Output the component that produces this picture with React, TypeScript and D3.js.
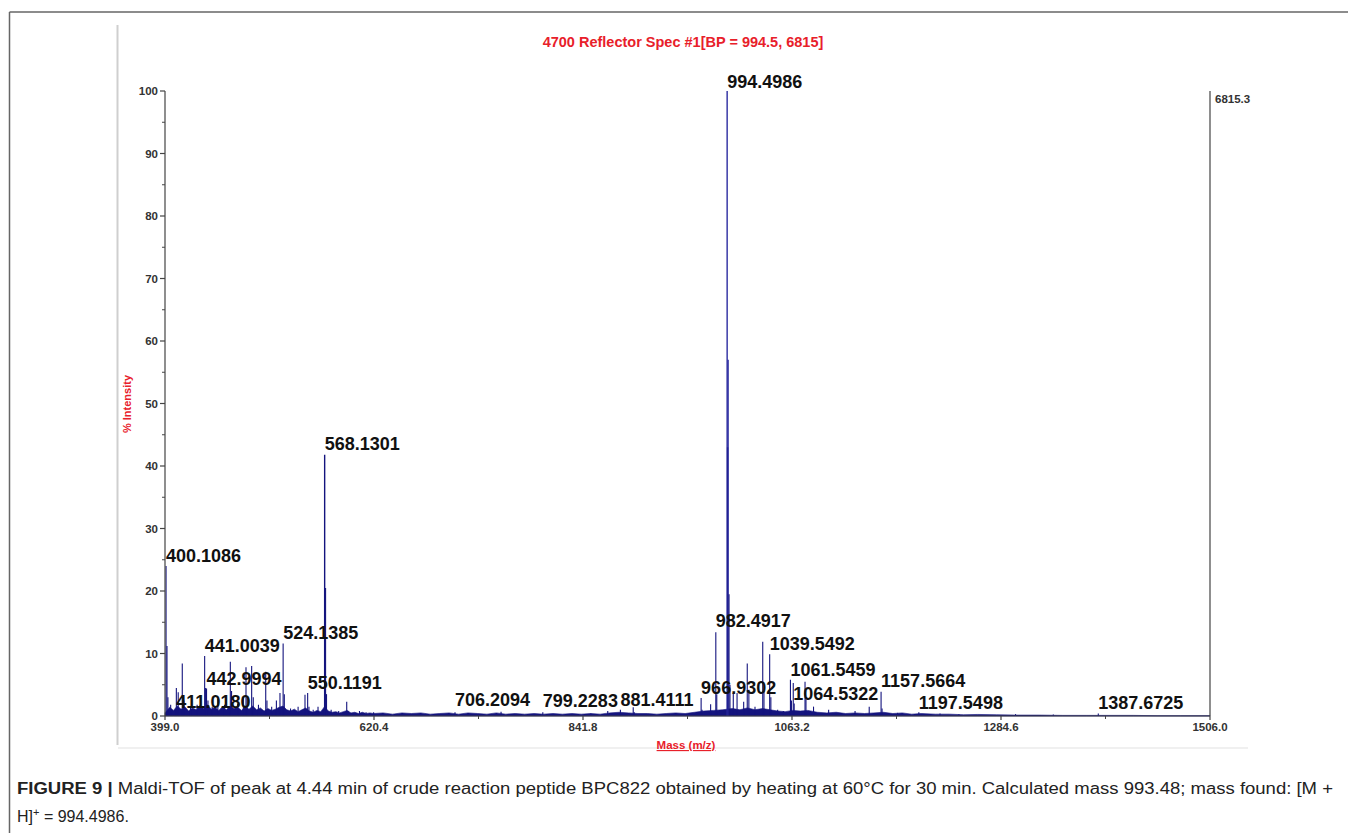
import React from "react";
import * as d3 from "d3";

const title = "4700 Reflector Spec #1[BP = 994.5, 6815]";
const yLabel = "% Intensity";
const xLabel = "Mass (m/z)";
const maxCountLabel = "6815.3";
const xTicks = [399.0, 620.4, 841.8, 1063.2, 1284.6, 1506.0];
const yTicks = [0, 10, 20, 30, 40, 50, 60, 70, 80, 90, 100];

// [m/z, % intensity]
const peaks: [number, number][] = [
  [400.1086, 24.0], [401.1, 11.2], [402.1, 3.0], [405.0, 1.8], [411.018, 4.5], [413.0, 3.8],
  [417.3, 8.4], [419.0, 2.5], [426.0, 1.5], [433.0, 1.8], [441.0039, 9.6], [442.0, 4.5],
  [442.9994, 4.4], [444.5, 2.5], [449.0, 1.5], [455.0, 2.8], [462.0, 1.8], [468.2, 8.7],
  [469.5, 4.0], [476.0, 2.0], [482.0, 3.0], [484.8, 7.8], [486.0, 3.0], [490.8, 8.0],
  [492.5, 3.0], [498.0, 1.8], [505.7, 7.1], [507.0, 2.5], [512.0, 1.5], [517.0, 2.5],
  [520.8, 3.7], [524.1385, 11.6], [525.4, 3.5], [532.0, 1.2], [540.0, 1.5], [547.3, 3.4],
  [550.1191, 3.7], [551.5, 1.5], [556.0, 1.0], [561.1, 1.5], [568.1301, 41.8], [569.1, 20.5],
  [570.1, 3.5], [575.0, 1.0], [583.0, 0.8], [591.5, 2.3], [593.0, 0.8], [605.0, 0.8],
  [612.0, 0.6], [620.0, 0.6], [706.2094, 0.6], [720.0, 0.5], [755.0, 0.7], [799.2283, 0.6],
  [850.0, 0.4], [868.0, 0.8], [881.4111, 1.0], [895.0, 1.4], [896.1, 0.6], [940.0, 0.5],
  [966.9302, 2.9], [967.9, 1.0], [977.0, 1.9], [982.4917, 13.4], [983.5, 3.5],
  [994.4986, 100], [995.0, 43], [995.5, 57], [996.5, 19.5], [997.5, 5.0], [1001.0, 3.7],
  [1005.0, 3.7], [1012.0, 2.3], [1015.8, 8.4], [1017.5, 4.2], [1024.0, 1.5], [1032.2, 11.9],
  [1033.5, 4.0], [1039.5492, 9.9], [1040.8, 3.0], [1048.0, 1.0], [1054.0, 0.8],
  [1061.5459, 5.8], [1062.6, 2.5], [1064.5322, 5.3], [1065.5, 2.0], [1077.0, 5.5],
  [1078.0, 3.0], [1086.0, 1.5], [1102.0, 1.0], [1130.0, 0.8], [1145.0, 1.5],
  [1157.5664, 3.9], [1158.6, 1.2], [1175.0, 0.5], [1197.5498, 0.6], [1220.0, 0.4],
  [1240.0, 0.3], [1300.0, 0.3], [1340.0, 0.25], [1387.6725, 0.4],
];

// baseline noise [m/z, % intensity]
const baseline: [number, number][] = [
  [399, 0.5], [404, 1.4], [408, 0.9], [412, 1.6], [416, 1.1], [420, 1.5], [424, 0.8], [428, 1.3],
  [432, 1.0], [436, 1.7], [440, 1.2], [444, 1.8], [448, 1.1], [452, 1.4], [456, 0.9], [460, 1.5],
  [464, 1.0], [468, 1.6], [472, 1.2], [476, 1.4], [480, 0.9], [484, 1.5], [488, 1.1], [492, 1.6],
  [496, 1.0], [500, 1.3], [504, 0.8], [508, 1.2], [512, 0.9], [516, 1.1], [520, 1.4], [524, 1.6],
  [528, 1.0], [532, 0.8], [536, 1.1], [540, 0.7], [544, 1.0], [548, 1.3], [552, 0.8], [556, 0.6],
  [560, 0.9], [564, 0.7], [568, 1.5], [572, 0.8], [576, 0.6], [580, 0.7], [584, 0.5], [588, 0.7],
  [592, 0.9], [596, 0.5], [600, 0.6], [604, 0.4], [608, 0.6], [612, 0.4], [616, 0.5], [620, 0.4],
  [630, 0.5], [640, 0.3], [650, 0.5], [660, 0.4], [670, 0.5], [680, 0.3], [690, 0.4], [700, 0.5],
  [710, 0.3], [720, 0.5], [730, 0.4], [740, 0.3], [750, 0.5], [760, 0.3], [770, 0.4], [780, 0.3],
  [790, 0.4], [800, 0.3], [810, 0.4], [820, 0.3], [830, 0.4], [840, 0.3], [850, 0.4], [860, 0.3],
  [870, 0.5], [880, 0.6], [890, 0.5], [900, 0.4], [910, 0.4], [920, 0.3], [930, 0.4], [940, 0.5],
  [950, 0.4], [960, 0.6], [970, 0.8], [980, 0.9], [990, 1.0], [1000, 1.2], [1008, 1.0], [1016, 1.3],
  [1024, 1.0], [1032, 1.2], [1040, 1.0], [1048, 0.8], [1056, 0.7], [1064, 0.9], [1072, 0.8],
  [1080, 0.9], [1090, 0.6], [1100, 0.5], [1110, 0.6], [1120, 0.4], [1130, 0.5], [1140, 0.4],
  [1150, 0.5], [1160, 0.6], [1170, 0.4], [1180, 0.5], [1190, 0.3], [1200, 0.4], [1215, 0.3],
  [1230, 0.3], [1245, 0.2], [1260, 0.25], [1280, 0.2], [1300, 0.15], [1325, 0.15], [1350, 0.1],
  [1375, 0.1], [1400, 0.1], [1425, 0.1], [1450, 0.05], [1475, 0.05], [1506, 0.05],
];

// peak annotation: m/z (left anchor) and label level in % intensity
const peakLabelMz = [994.4986, 568.1301, 400.1086, 441.0039, 524.1385, 442.9994, 550.1191, 411.018,
  706.2094, 799.2283, 881.4111, 966.9302, 982.4917, 1039.5492, 1061.5459, 1064.5322, 1157.5664,
  1197.5498, 1387.6725];
const peakLabelLevel = [100.5, 42.5, 24.7, 10.2, 12.3, 4.9, 4.3, 1.3, 1.6, 1.5, 1.6, 3.5, 14.2, 10.6,
  6.4, 2.6, 4.7, 1.1, 1.1];

const W = 1348;
const H = 833;

export default function App() {
  const x = d3.scaleLinear().domain([399, 1506]).range([165, 1210]);
  const y = d3.scaleLinear().domain([0, 100]).range([716, 91]);

  const area = d3
    .area<[number, number]>()
    .x((d) => x(d[0]))
    .y0(y(0))
    .y1((d) => y(d[1]));

  const minorX = xTicks.slice(0, -1).map((v, i) => (v + xTicks[i + 1]) / 2);
  const minorY = yTicks.slice(0, -1).map((v, i) => (v + yTicks[i + 1]) / 2);

  const font = "'Liberation Sans', Arial, sans-serif";
  const spectrum = "#14147e";

  return (
    <svg
      width={W}
      height={H}
      style={{ position: "absolute", left: 0, top: 0, background: "#fff" }}
      fontFamily={font}
    >
      {/* figure frame */}
      <line x1={9.5} y1={12} x2={W} y2={12} stroke="#666" strokeWidth={1.5} />
      <line x1={9.5} y1={12} x2={9.5} y2={H} stroke="#666" strokeWidth={1.5} />
      {/* image edge */}
      <line x1={117.5} y1={25} x2={117.5} y2={745} stroke="#cfcfcf" strokeWidth={2} />
      <line x1={118} y1={748} x2={1248} y2={748} stroke="#f0f0f0" strokeWidth={2} />

      {/* title */}
      <text x={683} y={47} textAnchor="middle" fill="#e8202a" fontSize={14.5} fontWeight="bold">
        {title}
      </text>

      {/* baseline noise */}
      <path d={area(baseline) || ""} fill={spectrum} stroke={spectrum} strokeWidth={0.6} />

      {/* peaks */}
      {peaks.map(([m, v], i) => (
        <line
          key={i}
          x1={x(m)}
          x2={x(m)}
          y1={y(0)}
          y2={y(v)}
          stroke={v > 50 ? "#2b2ba0" : spectrum}
          strokeWidth={v > 30 ? 1.4 : 1.1}
        />
      ))}

      {/* y axis */}
      <line x1={165} y1={y(100)} x2={165} y2={y(0)} stroke="#444" strokeWidth={1.2} />
      {yTicks.map((t) => (
        <g key={t}>
          <line x1={160} x2={165} y1={y(t)} y2={y(t)} stroke="#444" strokeWidth={1.2} />
          <text
            x={158}
            y={y(t) + 4}
            textAnchor="end"
            fontSize={11.5}
            fontWeight="bold"
            fill="#333"
          >
            {t}
          </text>
        </g>
      ))}
      {minorY.map((t) => (
        <line key={t} x1={162} x2={165} y1={y(t)} y2={y(t)} stroke="#444" strokeWidth={1} />
      ))}

      {/* x axis */}
      <line x1={165} y1={y(0)} x2={1210} y2={y(0)} stroke="#444" strokeWidth={1} />
      {xTicks.map((t) => (
        <g key={t}>
          <line x1={x(t)} x2={x(t)} y1={y(0)} y2={y(0) + 4} stroke="#444" strokeWidth={1.2} />
          <text
            x={x(t)}
            y={731}
            textAnchor="middle"
            fontSize={11.5}
            fontWeight="bold"
            fill="#333"
          >
            {t.toFixed(1)}
          </text>
        </g>
      ))}
      {minorX.map((t) => (
        <line key={t} x1={x(t)} x2={x(t)} y1={y(0)} y2={y(0) + 3} stroke="#444" strokeWidth={1} />
      ))}

      {/* right count axis */}
      <line x1={1210} y1={y(100)} x2={1210} y2={y(0)} stroke="#444" strokeWidth={1.2} />
      <text x={1215} y={103} fontSize={11.5} fontWeight="bold" fill="#333">
        {maxCountLabel}
      </text>

      {/* axis titles */}
      <text
        transform={`translate(${131},${404}) rotate(-90)`}
        textAnchor="middle"
        fontSize={11}
        fontWeight="bold"
        fill="#e8202a"
      >
        {yLabel}
      </text>
      <text
        x={686}
        y={749}
        textAnchor="middle"
        fontSize={11.5}
        fontWeight="bold"
        fill="#e8202a"
        textDecoration="underline"
      >
        {xLabel}
      </text>

      {/* peak labels */}
      {peakLabelMz.map((m, i) => (
        <text
          key={m}
          x={x(m)}
          y={y(peakLabelLevel[i])}
          fontSize={18}
          fontWeight="bold"
          fill="#111"
        >
          {m.toFixed(4)}
        </text>
      ))}

      {/* caption */}
      <text x={17} y={794} fontSize={16} fill="#222" textLength={1316} lengthAdjust="spacingAndGlyphs">
        <tspan fontWeight="bold">FIGURE 9 |</tspan>
        <tspan> Maldi-TOF of peak at 4.44 min of crude reaction peptide BPC822 obtained by heating at 60°C for 30 min. Calculated mass 993.48; mass found: [M +</tspan>
      </text>
      <text x={17} y={822} fontSize={16} fill="#222">
        <tspan>H]</tspan>
        <tspan dy={-6} fontSize={11}>+</tspan>
        <tspan dy={6}> = 994.4986.</tspan>
      </text>
    </svg>
  );
}
